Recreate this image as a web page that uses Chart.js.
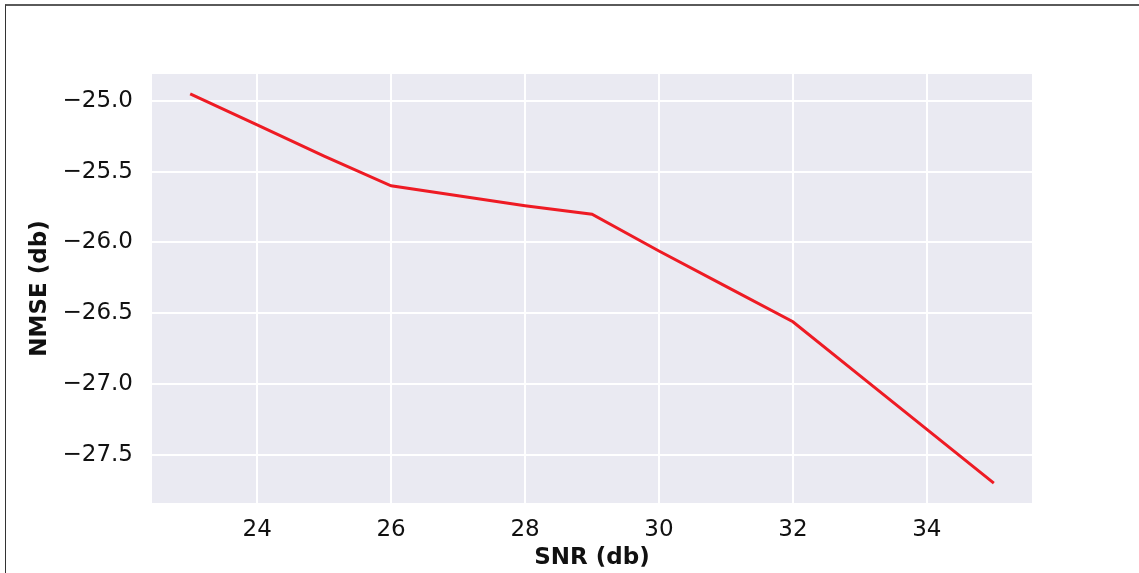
<!DOCTYPE html>
<html>
<head>
<meta charset="utf-8">
<script src="https://cdn.jsdelivr.net/npm/chart.js@4.4.1/dist/chart.umd.min.js"></script>
<style>
  html, body { margin: 0; padding: 0; background: #fff; }
  #wrap { position: relative; width: 1139px; height: 573px; overflow: hidden; }
  #frame { position: absolute; left: 5px; top: 4px; right: -10px; bottom: -10px;
           border-top: 2px solid #5a5a5a; border-left: 1.5px solid #333; }
  #chart { position: absolute; left: 0; top: 0; }
</style>
</head>
<body>
<div id="wrap">
  <div id="frame"></div>
  <canvas id="chart" width="1139" height="573"></canvas>
</div>
<script>
const snr = [23, 24, 25, 26, 27, 28, 29, 30, 31, 32, 33, 34, 35];
const nmse = [-24.95, -25.17, -25.39, -25.60, -25.67, -25.74, -25.80, -26.06, -26.31, -26.56, -26.94, -27.32, -27.70];
const xTicks = [24, 26, 28, 30, 32, 34];
const yTicks = [-25.0, -25.5, -26.0, -26.5, -27.0, -27.5];

const FONT = "'DejaVu Sans', sans-serif";

// grey panel behind the plot, seaborn darkgrid look
const panelBg = {
  id: 'panelBg',
  beforeDraw(chart) {
    const { ctx, chartArea: a } = chart;
    ctx.save();
    ctx.fillStyle = '#eaeaf2';
    ctx.fillRect(a.left, a.top, a.right - a.left, a.bottom - a.top);
    ctx.restore();
  }
};

const minus = v => (v < 0 ? '\u2212' : '') + Math.abs(v).toFixed(1);

new Chart(document.getElementById('chart'), {
  type: 'line',
  data: {
    datasets: [{
      data: snr.map((x, i) => ({ x, y: nmse[i] })),
      borderColor: '#ee1b24',
      borderWidth: 3,
      pointRadius: 0,
      tension: 0,
      fill: false
    }]
  },
  options: {
    responsive: false,
    animation: false,
    devicePixelRatio: 1,
    layout: { padding: { left: 0, top: 74, right: 107, bottom: 0 } },
    plugins: { legend: { display: false }, tooltip: { enabled: false } },
    scales: {
      x: {
        type: 'linear',
        min: 22.43,
        max: 35.57,
        afterBuildTicks: s => { s.ticks = xTicks.map(value => ({ value })); },
        afterFit: s => { s.height = 70; },
        grid: { color: '#ffffff', lineWidth: 2, drawTicks: false },
        border: { display: false },
        ticks: { padding: 13, color: '#111', font: { family: FONT, size: 23 }, maxRotation: 0 },
        title: { display: true, text: 'SNR (db)', color: '#111', padding: { top: 0, bottom: 1 },
                 font: { family: FONT, size: 23, weight: 'bold' } }
      },
      y: {
        min: -27.84,
        max: -24.81,
        afterBuildTicks: s => { s.ticks = yTicks.map(value => ({ value })); },
        afterFit: s => { s.width = 152; },
        grid: { color: '#ffffff', lineWidth: 2, drawTicks: false },
        border: { display: false },
        ticks: { padding: 19, color: '#111', font: { family: FONT, size: 23 }, callback: minus },
        title: { display: true, text: 'NMSE (db)', color: '#111', padding: { top: 26, bottom: 0 },
                 font: { family: FONT, size: 23, weight: 'bold' } }
      }
    }
  },
  plugins: [panelBg]
});
</script>
</body>
</html>
